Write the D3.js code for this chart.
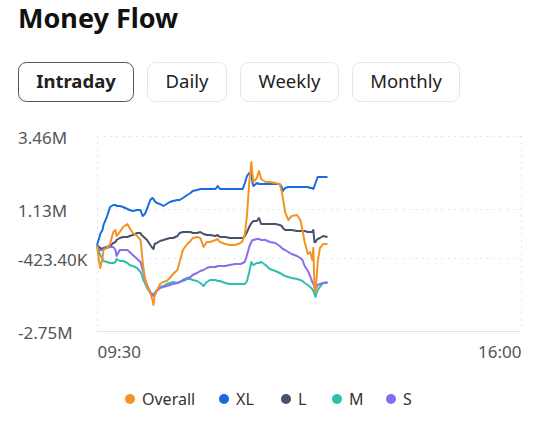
<!DOCTYPE html>
<html>
<head>
<meta charset="utf-8">
<script src="https://cdn.jsdelivr.net/npm/d3@7/dist/d3.min.js"></script>
<style>
  html, body { margin: 0; padding: 0; background: #fff; }
  svg { display: block; font-family: "Noto Sans", sans-serif; }
</style>
</head>
<body>
<svg id="chart" width="539" height="424"></svg>
<script>
// ---------- data ----------
const title = "Money Flow";
const tabs = ["Intraday", "Daily", "Weekly", "Monthly"];
const activeTab = "Intraday";

// minutes after 09:30
const minutes = [0,2,3,5,6,9,12,15,17,18, 21,24,28,30,33,37,40,41,42,44,
  46,49,51,52,53,55,58,61,64,67, 70,74,76,79,83,86,88,92,95,98,
  101,104,109,111,113,118,122,127,132,134, 136,138,140,142,143,144,147,149,151,155,
  159,164,168,170,171,173,176,179,184,187, 189,191,194,196,198,199,200,201,202,203,
  205,208,212];

// values in millions
const overall = [-0.043,-0.553,-0.744,-0.425,-0.170,-0.107,0.020,0.403,0.467,0.275,
  0.403,0.562,0.658,0.530,0.371,0.275,0.148,-0.170,-0.553,-1.062,
  -1.349,-1.540,-1.763,-1.922,-1.635,-1.476,-1.253,-1.189,-1.158,-1.062,
  -0.935,-0.807,-0.553,-0.170,0.020,0.116,0.212,0.244,0.212,-0.075,
  0.084,0.084,0.148,0.180,0.084,0.020,-0.011,-0.011,0.052,0.116,
  0.339,0.944,1.963,2.632,2.218,1.995,2.122,2.345,2.091,1.995,
  1.995,1.963,1.931,1.677,1.486,1.040,0.785,0.912,0.944,0.785,
  0.467,0.084,-0.298,-0.234,-0.489,-0.107,-1.381,-1.508,-1.062,-0.553,
  -0.107,0.020,0.020];

const xl = [-0.011,0.212,0.339,0.467,0.626,0.880,1.199,1.263,1.263,1.231,
  1.231,1.199,1.135,1.103,1.072,1.103,1.103,1.008,0.912,0.976,
  1.135,1.422,1.486,1.454,1.390,1.326,1.294,1.231,1.294,1.358,
  1.390,1.422,1.422,1.486,1.581,1.645,1.708,1.740,1.772,1.772,
  1.772,1.772,1.772,1.868,1.772,1.772,1.772,1.772,1.772,1.772,
  1.963,2.186,2.282,2.282,1.963,1.868,1.963,1.931,1.931,1.931,
  1.931,1.931,1.931,1.836,1.708,1.804,1.836,1.836,1.836,1.836,
  1.836,1.836,1.836,1.804,1.804,1.772,1.868,1.963,2.059,2.154,
  2.154,2.154,2.154];

const large = [-0.011,-0.075,-0.107,-0.139,-0.107,-0.075,-0.043,0.052,0.084,0.148,
  0.212,0.244,0.244,0.275,0.307,0.371,0.371,0.307,0.275,0.212,
  0.148,-0.011,-0.107,-0.139,0.020,0.052,0.116,0.148,0.180,0.212,
  0.212,0.275,0.371,0.403,0.403,0.403,0.371,0.371,0.403,0.339,
  0.307,0.307,0.275,0.307,0.244,0.244,0.212,0.212,0.212,0.212,
  0.275,0.403,0.562,0.689,0.721,0.753,0.753,0.849,0.658,0.658,
  0.658,0.658,0.626,0.594,0.530,0.467,0.467,0.467,0.435,0.435,
  0.435,0.435,0.403,0.403,0.403,0.467,0.084,0.084,0.148,0.180,
  0.212,0.275,0.244];

const medium = [-0.011,-0.234,-0.330,-0.457,-0.521,-0.553,-0.584,-0.584,-0.553,-0.457,
  -0.521,-0.521,-0.584,-0.648,-0.680,-0.744,-0.871,-0.935,-1.062,-1.221,
  -1.381,-1.540,-1.572,-1.635,-1.540,-1.444,-1.349,-1.317,-1.253,-1.221,
  -1.189,-1.221,-1.189,-1.158,-1.094,-1.094,-1.126,-1.158,-1.221,-1.317,
  -1.189,-1.126,-1.126,-1.158,-1.158,-1.221,-1.253,-1.253,-1.253,-1.253,
  -1.253,-1.158,-0.871,-0.553,-0.616,-0.648,-0.584,-0.584,-0.553,-0.648,
  -0.775,-0.839,-0.903,-0.935,-0.967,-0.998,-1.030,-1.062,-1.094,-1.126,
  -1.158,-1.221,-1.285,-1.349,-1.412,-1.476,-1.572,-1.667,-1.540,-1.444,
  -1.349,-1.221,-1.221];

const small = [-0.075,-0.170,-0.170,-0.170,-0.139,-0.107,-0.075,-0.075,-0.170,-0.362,
  -0.170,-0.170,-0.170,-0.234,-0.330,-0.457,-0.553,-0.680,-0.807,-1.062,
  -1.285,-1.508,-1.604,-1.635,-1.572,-1.476,-1.381,-1.349,-1.317,-1.285,
  -1.253,-1.221,-1.189,-1.126,-1.062,-1.030,-0.967,-0.903,-0.839,-0.807,
  -0.744,-0.712,-0.712,-0.680,-0.680,-0.680,-0.648,-0.616,-0.616,-0.584,
  -0.553,-0.330,-0.075,0.084,0.148,0.148,0.180,0.180,0.148,0.148,
  0.084,0.052,-0.043,-0.107,-0.139,-0.170,-0.234,-0.298,-0.362,-0.425,
  -0.489,-0.680,-0.839,-0.998,-1.189,-1.253,-1.349,-1.412,-1.349,-1.285,
  -1.253,-1.221,-1.189];

const seriesNames = ["Overall", "XL", "L", "M", "S"];
const seriesValues = [overall, xl, large, medium, small];
const seriesColors = ["#F39325", "#1A6BE0", "#46526A", "#2EBFAE", "#8A6DEF"];

const yTickValues = [3.46, 1.13, -0.4234, -2.75];
const yTickLabels = ["3.46M", "1.13M", "-423.40K", "-2.75M"];
const xTickLabels = ["09:30", "16:00"];

// ---------- drawing ----------
const svg = d3.select("#chart");
const parseT = d3.timeParse("%H:%M");
const start = parseT(xTickLabels[0]);
const end = parseT(xTickLabels[1]);
const toDate = m => new Date(start.getTime() + m * 60000);

const margin = {left: 97, right: 18, top: 136, bottom: 93};
const W = 539, H = 424;
const x = d3.scaleTime().domain([start, end]).range([margin.left, W - margin.right]);
const y = d3.scaleLinear().domain([-2.75, 3.46]).range([H - margin.bottom, margin.top]);

// title
svg.append("text").attr("x", 18).attr("y", 28)
  .attr("font-size", 27).attr("font-weight", 700).attr("fill", "#111")
  .text(title);

// tabs
const tabX = [18, 147, 240, 352];
const tabW = [115, 79, 98, 107];
tabs.forEach((t, i) => {
  const g = svg.append("g");
  const active = t === activeTab;
  g.append("rect").attr("x", tabX[i] + 0.5).attr("y", 62.5)
    .attr("width", tabW[i]).attr("height", 39).attr("rx", 8)
    .attr("fill", "#fff")
    .attr("stroke", active ? "#555" : "#e6e6e6").attr("stroke-width", 1);
  g.append("text").attr("x", tabX[i] + tabW[i] / 2 + 0.5).attr("y", 88)
    .attr("text-anchor", "middle").attr("font-size", 18.5)
    .attr("font-weight", active ? 700 : 400).attr("fill", "#222")
    .text(t);
});

// grid
const grid = svg.append("g");
yTickValues.slice(0, 3).forEach(v => {
  grid.append("line").attr("x1", x.range()[0]).attr("x2", x.range()[1])
    .attr("y1", Math.round(y(v)) + 0.5).attr("y2", Math.round(y(v)) + 0.5)
    .attr("stroke", "#dadada").attr("stroke-dasharray", "1.5,5");
});
x.range().forEach(px => {
  grid.append("line").attr("x1", px + 0.5).attr("x2", px + 0.5)
    .attr("y1", y.range()[1]).attr("y2", y.range()[0])
    .attr("stroke", "#dadada").attr("stroke-dasharray", "1.5,5");
});
grid.append("line").attr("x1", x.range()[0]).attr("x2", x.range()[1])
  .attr("y1", y.range()[0] + 0.5).attr("y2", y.range()[0] + 0.5)
  .attr("stroke", "#e3e3e3").attr("stroke-width", 1);

// y labels
const yAxis = d3.axisLeft(y).tickValues(yTickValues)
  .tickFormat((d, i) => yTickLabels[i]).tickSize(0);
const yg = svg.append("g").attr("transform", "translate(18,2)").call(yAxis);
yg.select(".domain").remove();
yg.selectAll("text").attr("text-anchor", "start").attr("x", 0)
  .attr("font-size", 17).attr("fill", "#555").attr("font-family", "Noto Sans, sans-serif");

// x labels
const xAxis = d3.axisBottom(x).tickValues([start, end])
  .tickFormat(d3.timeFormat("%H:%M")).tickSize(0);
const xg = svg.append("g").attr("transform", `translate(0,${y.range()[0] + 12})`).call(xAxis);
xg.select(".domain").remove();
xg.selectAll("text").attr("font-size", 17).attr("fill", "#555")
  .attr("font-family", "Noto Sans, sans-serif")
  .attr("text-anchor", (d, i) => i === 0 ? "start" : "end");

// lines
const line = d3.line()
  .x((d, i) => x(toDate(minutes[i])))
  .y(d => y(d))
  .curve(d3.curveLinear);
const order = [2, 3, 4, 1, 0];
order.forEach(k => {
  svg.append("path").datum(seriesValues[k])
    .attr("fill", "none").attr("stroke", seriesColors[k])
    .attr("stroke-width", 2).attr("stroke-linejoin", "round")
    .attr("d", line);
});

// legend
const legendX = [130, 224, 286, 337, 391];
const lg = svg.append("g");
seriesNames.forEach((n, i) => {
  lg.append("circle").attr("cx", legendX[i]).attr("cy", 399).attr("r", 5)
    .attr("fill", seriesColors[i]);
  lg.append("text").attr("x", legendX[i] + 12).attr("y", 405)
    .attr("font-size", 16).attr("fill", "#333").text(n);
});
</script>
</body>
</html>
